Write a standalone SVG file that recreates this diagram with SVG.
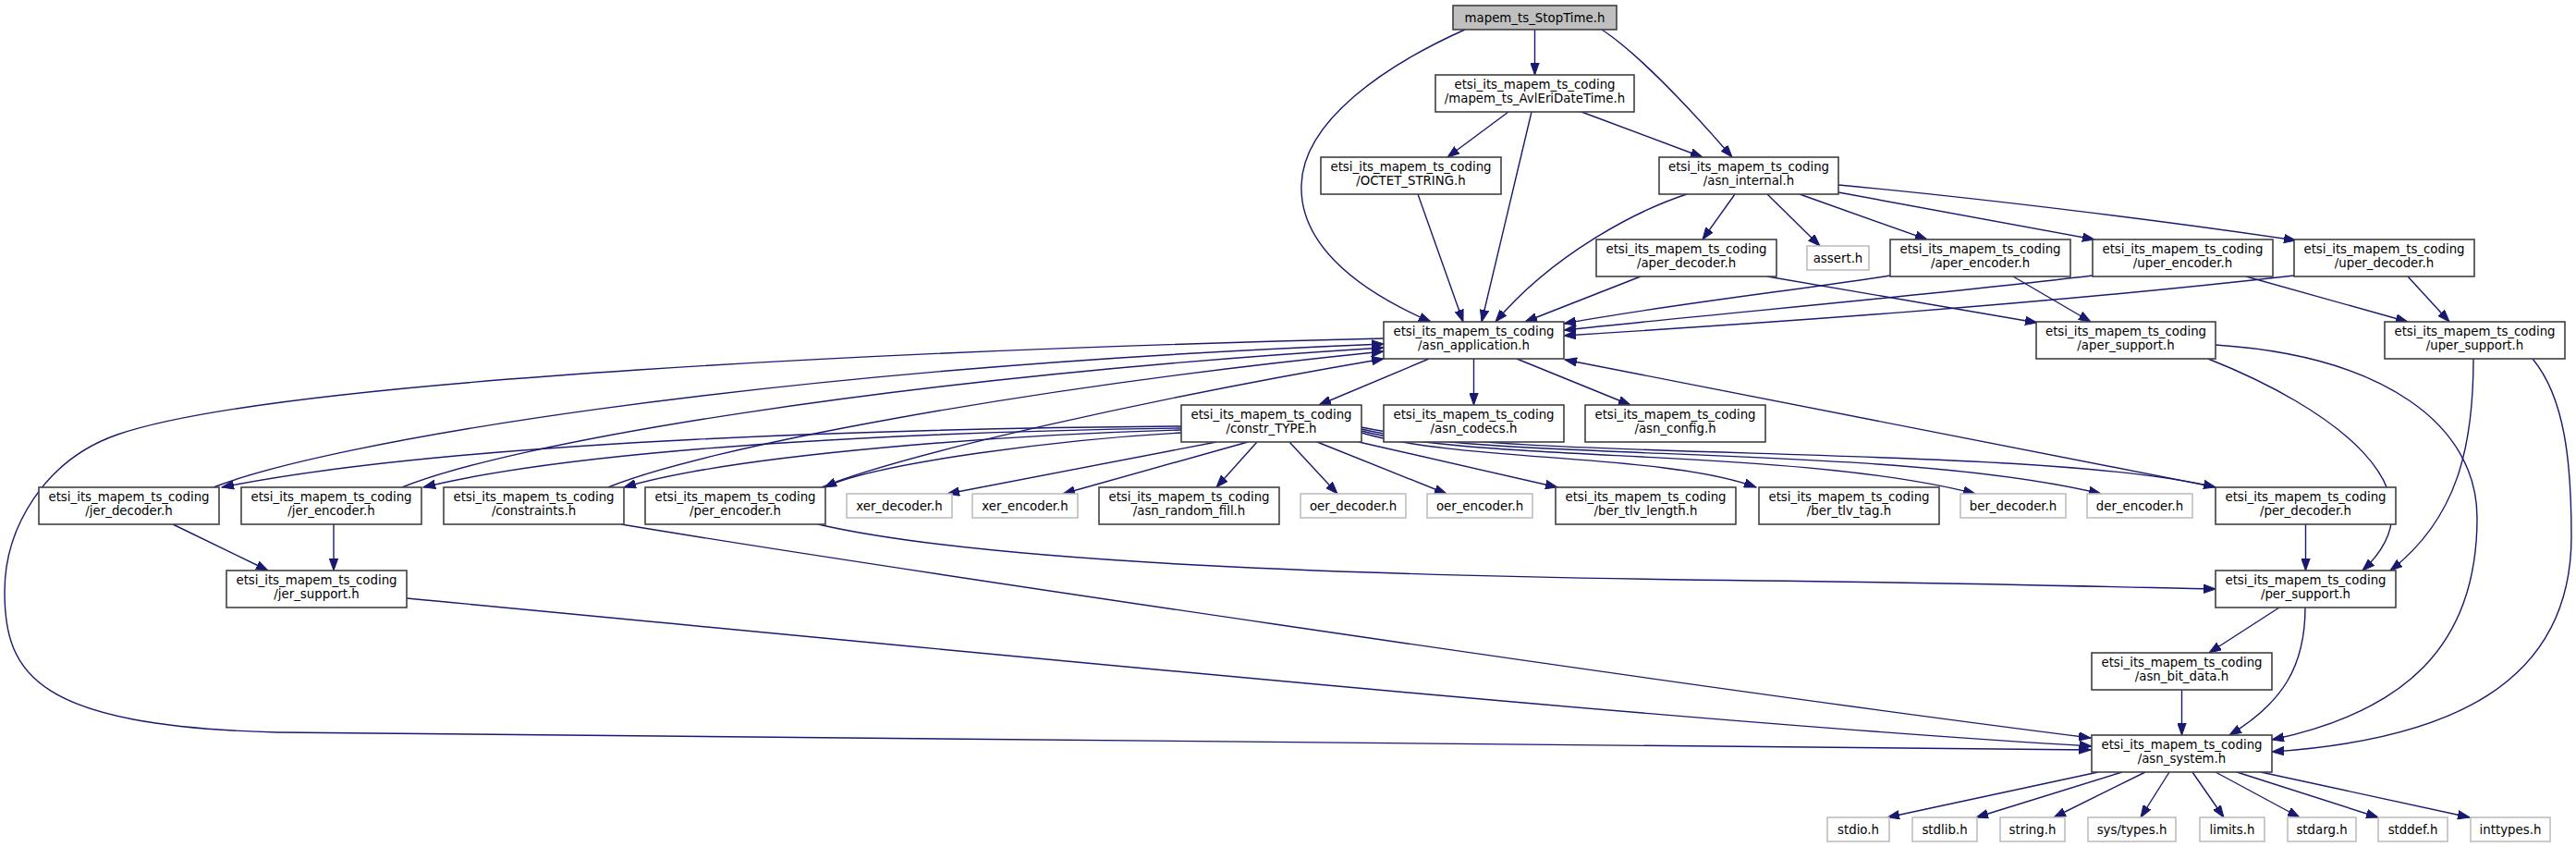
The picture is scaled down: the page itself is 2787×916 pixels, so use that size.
<svg xmlns="http://www.w3.org/2000/svg" width="2787" height="916" viewBox="0 0 2787 916">
<style>
.n rect{fill:#fff;stroke:#404040;stroke-width:1.6}
.s rect{fill:#fff;stroke:#bfbfbf;stroke-width:1.6}
.r rect{fill:#bfbfbf;stroke:#404040;stroke-width:1.6}
text{font-family:"DejaVu Sans",sans-serif;font-size:13.33px;text-anchor:middle;fill:#000}
#edges path{fill:none;stroke:#191970;stroke-width:1.4;marker-end:url(#a)}
</style>
<defs>
<marker id="a" markerUnits="userSpaceOnUse" markerWidth="14" markerHeight="10" refX="13" refY="5" orient="auto" viewBox="0 0 14 10">
<path d="M0,0.3 L13,5 L0,9.7 Z" fill="#191970" stroke="#191970" stroke-width="1"/>
</marker>
</defs>
<rect width="2787" height="916" fill="#fff"/>
<g id="edges">
<path d="M1660.5,32 L1660.5,81"/>
<path d="M1733,32 C1768,55 1822,110 1874,170"/>
<path d="M1585,32 C1500,70 1410,130 1408,200 C1406,260 1460,310 1548,348"/>
<path d="M1632,121 L1566,170"/>
<path d="M1711,121 L1842,170"/>
<path d="M1657,121 L1603,348"/>
<path d="M1534,210 L1583,348"/>
<path d="M1825,210 C1770,228 1680,275 1618,348"/>
<path d="M1877,210 L1842,259"/>
<path d="M1912,210 L1969,266"/>
<path d="M1947,210 L2085,259"/>
<path d="M1989,208 L2266,259"/>
<path d="M1989,200 C2150,215 2350,240 2484,260"/>
<path d="M1775,299 L1650,348"/>
<path d="M1912,299 L2204,349"/>
<path d="M2045,298 C1950,313 1800,330 1692,350"/>
<path d="M2178,299 L2262,348"/>
<path d="M2264,298 C2100,318 1850,340 1692,357"/>
<path d="M2430,299 L2605,348"/>
<path d="M2482,298 C2200,330 1900,350 1692,363"/>
<path d="M2605,299 L2650,348"/>
<path d="M1546,388 L1427,438"/>
<path d="M1594.5,388 L1594.5,438"/>
<path d="M1641,388 L1764,438"/>
<path d="M1497,366 C1000,378 300,410 127,470 C49,497 5,570 5,640 C5,730 40,785 300,792 C1200,797 1900,802 2262,811"/>
<path d="M1278,461 C1000,463 500,475 240,527"/>
<path d="M1278,463 C1050,466 650,480 458,527"/>
<path d="M1278,465 C1100,470 800,490 675,527"/>
<path d="M1278,468 C1150,475 950,500 892,527"/>
<path d="M1316,478 L1025,534"/>
<path d="M1350,478 L1150,534"/>
<path d="M1360,478 L1316,527"/>
<path d="M1395,478 L1447,534"/>
<path d="M1425,478 L1565,534"/>
<path d="M1470,478 L1685,527"/>
<path d="M1473,468 C1580,500 1800,490 1900,527"/>
<path d="M1473,466 C1600,500 1950,485 2137,534"/>
<path d="M1473,464 C1620,500 2050,480 2273,534"/>
<path d="M1473,462 C1650,500 2200,480 2397,527"/>
<path d="M231,527 C350,480 800,400 1497,372"/>
<path d="M435,527 C550,480 950,410 1497,376"/>
<path d="M658,527 C760,485 1100,420 1497,380"/>
<path d="M889,527 C980,490 1250,430 1497,388"/>
<path d="M2398,527 L1693,389"/>
<path d="M187,567 L290,617"/>
<path d="M361,567 L361,617"/>
<path d="M672,567 C900,605 1800,740 2262,798"/>
<path d="M885,567 C1050,605 1400,622 1900,628 C2100,630 2300,635 2397,637"/>
<path d="M2494.5,567 L2494.5,617"/>
<path d="M2389,388 C2520,440 2650,530 2556,617"/>
<path d="M2397,373 C2580,385 2680,460 2680,560 C2680,700 2600,770 2458,800"/>
<path d="M2676,388 C2676,480 2660,560 2586,617"/>
<path d="M2740,388 C2775,430 2782,500 2782,580 C2782,740 2650,800 2458,813"/>
<path d="M440,647 C1000,700 1800,780 2263,807"/>
<path d="M2466,657 L2390,706"/>
<path d="M2494,657 C2494,720 2470,760 2412,795"/>
<path d="M2360.5,746 L2360.5,795"/>
<path d="M2270,835 L2042,884"/>
<path d="M2296,835 L2138,884"/>
<path d="M2321,835 L2222,884"/>
<path d="M2347,835 L2316,884"/>
<path d="M2372,835 L2406,884"/>
<path d="M2397,835 L2488,884"/>
<path d="M2420,835 L2573,884"/>
<path d="M2446,835 L2672,884"/>
</g>
<g id="n_top" class="r"><rect x="1572" y="6" width="177" height="26"/><text x="1660.5" y="23.8">mapem_ts_StopTime.h</text></g>
<g id="n_avl" class="n"><rect x="1553" y="81" width="215" height="40"/><text x="1660.5" y="96.3">etsi_its_mapem_ts_coding</text><text x="1660.5" y="111">/mapem_ts_AvlEriDateTime.h</text></g>
<g id="n_octet" class="n"><rect x="1429" y="170" width="195" height="40"/><text x="1526.5" y="185.3">etsi_its_mapem_ts_coding</text><text x="1526.5" y="200">/OCTET_STRING.h</text></g>
<g id="n_internal" class="n"><rect x="1795" y="170" width="194" height="40"/><text x="1892" y="185.3">etsi_its_mapem_ts_coding</text><text x="1892" y="200">/asn_internal.h</text></g>
<g id="n_aperdec" class="n"><rect x="1727" y="259" width="195" height="40"/><text x="1824.5" y="274.3">etsi_its_mapem_ts_coding</text><text x="1824.5" y="289">/aper_decoder.h</text></g>
<g id="n_assert" class="s"><rect x="1955" y="266" width="67" height="26"/><text x="1988.5" y="283.8">assert.h</text></g>
<g id="n_aperenc" class="n"><rect x="2045" y="259" width="195" height="40"/><text x="2142.5" y="274.3">etsi_its_mapem_ts_coding</text><text x="2142.5" y="289">/aper_encoder.h</text></g>
<g id="n_uperenc" class="n"><rect x="2264" y="259" width="195" height="40"/><text x="2361.5" y="274.3">etsi_its_mapem_ts_coding</text><text x="2361.5" y="289">/uper_encoder.h</text></g>
<g id="n_uperdec" class="n"><rect x="2482" y="259" width="195" height="40"/><text x="2579.5" y="274.3">etsi_its_mapem_ts_coding</text><text x="2579.5" y="289">/uper_decoder.h</text></g>
<g id="n_asnapp" class="n"><rect x="1497" y="348" width="195" height="40"/><text x="1594.5" y="363.3">etsi_its_mapem_ts_coding</text><text x="1594.5" y="378">/asn_application.h</text></g>
<g id="n_apersup" class="n"><rect x="2203" y="348" width="194" height="40"/><text x="2300" y="363.3">etsi_its_mapem_ts_coding</text><text x="2300" y="378">/aper_support.h</text></g>
<g id="n_upersup" class="n"><rect x="2580" y="348" width="195" height="40"/><text x="2677.5" y="363.3">etsi_its_mapem_ts_coding</text><text x="2677.5" y="378">/uper_support.h</text></g>
<g id="n_constr" class="n"><rect x="1278" y="438" width="195" height="40"/><text x="1375.5" y="453.3">etsi_its_mapem_ts_coding</text><text x="1375.5" y="468">/constr_TYPE.h</text></g>
<g id="n_codecs" class="n"><rect x="1497" y="438" width="195" height="40"/><text x="1594.5" y="453.3">etsi_its_mapem_ts_coding</text><text x="1594.5" y="468">/asn_codecs.h</text></g>
<g id="n_config" class="n"><rect x="1715" y="438" width="195" height="40"/><text x="1812.5" y="453.3">etsi_its_mapem_ts_coding</text><text x="1812.5" y="468">/asn_config.h</text></g>
<g id="n_jerdec" class="n"><rect x="42" y="527" width="195" height="40"/><text x="139.5" y="542.3">etsi_its_mapem_ts_coding</text><text x="139.5" y="557">/jer_decoder.h</text></g>
<g id="n_jerenc" class="n"><rect x="261" y="527" width="195" height="40"/><text x="358.5" y="542.3">etsi_its_mapem_ts_coding</text><text x="358.5" y="557">/jer_encoder.h</text></g>
<g id="n_constraints" class="n"><rect x="480" y="527" width="195" height="40"/><text x="577.5" y="542.3">etsi_its_mapem_ts_coding</text><text x="577.5" y="557">/constraints.h</text></g>
<g id="n_perenc" class="n"><rect x="698" y="527" width="195" height="40"/><text x="795.5" y="542.3">etsi_its_mapem_ts_coding</text><text x="795.5" y="557">/per_encoder.h</text></g>
<g id="n_xerdec" class="s"><rect x="916" y="534" width="114" height="26"/><text x="973" y="551.8">xer_decoder.h</text></g>
<g id="n_xerenc" class="s"><rect x="1052" y="534" width="114" height="26"/><text x="1109" y="551.8">xer_encoder.h</text></g>
<g id="n_randfill" class="n"><rect x="1189" y="527" width="195" height="40"/><text x="1286.5" y="542.3">etsi_its_mapem_ts_coding</text><text x="1286.5" y="557">/asn_random_fill.h</text></g>
<g id="n_oerdec" class="s"><rect x="1407" y="534" width="114" height="26"/><text x="1464" y="551.8">oer_decoder.h</text></g>
<g id="n_oerenc" class="s"><rect x="1544" y="534" width="114" height="26"/><text x="1601" y="551.8">oer_encoder.h</text></g>
<g id="n_bertlvlen" class="n"><rect x="1683" y="527" width="195" height="40"/><text x="1780.5" y="542.3">etsi_its_mapem_ts_coding</text><text x="1780.5" y="557">/ber_tlv_length.h</text></g>
<g id="n_bertlvtag" class="n"><rect x="1903" y="527" width="195" height="40"/><text x="2000.5" y="542.3">etsi_its_mapem_ts_coding</text><text x="2000.5" y="557">/ber_tlv_tag.h</text></g>
<g id="n_berdec" class="s"><rect x="2121" y="534" width="114" height="26"/><text x="2178" y="551.8">ber_decoder.h</text></g>
<g id="n_derenc" class="s"><rect x="2258" y="534" width="114" height="26"/><text x="2315" y="551.8">der_encoder.h</text></g>
<g id="n_perdec" class="n"><rect x="2397" y="527" width="195" height="40"/><text x="2494.5" y="542.3">etsi_its_mapem_ts_coding</text><text x="2494.5" y="557">/per_decoder.h</text></g>
<g id="n_jersup" class="n"><rect x="245" y="617" width="195" height="40"/><text x="342.5" y="632.3">etsi_its_mapem_ts_coding</text><text x="342.5" y="647">/jer_support.h</text></g>
<g id="n_persup" class="n"><rect x="2397" y="617" width="195" height="40"/><text x="2494.5" y="632.3">etsi_its_mapem_ts_coding</text><text x="2494.5" y="647">/per_support.h</text></g>
<g id="n_bitdata" class="n"><rect x="2263" y="706" width="195" height="40"/><text x="2360.5" y="721.3">etsi_its_mapem_ts_coding</text><text x="2360.5" y="736">/asn_bit_data.h</text></g>
<g id="n_system" class="n"><rect x="2263" y="795" width="195" height="40"/><text x="2360.5" y="810.3">etsi_its_mapem_ts_coding</text><text x="2360.5" y="825">/asn_system.h</text></g>
<g id="n_stdio" class="s"><rect x="1977" y="884" width="67" height="26"/><text x="2010.5" y="901.8">stdio.h</text></g>
<g id="n_stdlib" class="s"><rect x="2069" y="884" width="70" height="26"/><text x="2104" y="901.8">stdlib.h</text></g>
<g id="n_string" class="s"><rect x="2164" y="884" width="70" height="26"/><text x="2199" y="901.8">string.h</text></g>
<g id="n_systypes" class="s"><rect x="2259" y="884" width="95" height="26"/><text x="2306.5" y="901.8">sys/types.h</text></g>
<g id="n_limits" class="s"><rect x="2380" y="884" width="70" height="26"/><text x="2415" y="901.8">limits.h</text></g>
<g id="n_stdarg" class="s"><rect x="2475" y="884" width="74" height="26"/><text x="2512" y="901.8">stdarg.h</text></g>
<g id="n_stddef" class="s"><rect x="2573" y="884" width="75" height="26"/><text x="2610.5" y="901.8">stddef.h</text></g>
<g id="n_inttypes" class="s"><rect x="2673" y="884" width="86" height="26"/><text x="2716" y="901.8">inttypes.h</text></g>
</svg>
